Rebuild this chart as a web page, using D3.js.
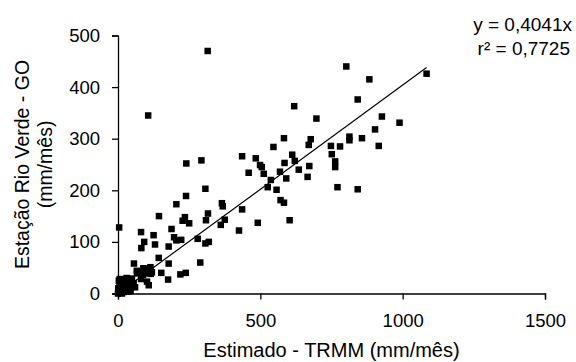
<!DOCTYPE html>
<html><head><meta charset="utf-8">
<script src="https://cdn.jsdelivr.net/npm/d3@7"></script>
<style>body{margin:0;background:#fff}svg{display:block}text{font-family:Arial,"Liberation Sans",sans-serif;fill:#000}</style>
</head><body><svg id="c" width="576" height="362"></svg>
<script>
const xTicks = [0, 500, 1000, 1500];
const yTicks = [0, 100, 200, 300, 400, 500];
const slope = 0.4041;
const equationText = "y = 0,4041x";
const r2Text = "r² = 0,7725";
const xTitle = "Estimado - TRMM (mm/mês)";
const yTitle = ["Estação Rio Verde - GO", "(mm/mês)"];
// Estimado TRMM (x) and station (y) monthly values
const trmm = [315,106,802,883,842,1084,619,697,927,989,903,857,813,813,916,780,748,751,763,763,771,842,583,677,670,546,672,666,612,621,635,585,569,591,537,526,557,512,459,499,505,484,436,293,240,571,583,603,491,425,436,365,368,375,361,307,239,205,235,227,250,316,309,144,188,81,125,4,92,82,130,178,197,205,222,280,307,319,143,178,56,289,152,176,219,238,108,
 114,92,78,67,119,96,88,81,102,49,38,89,66,84,112,115,
 2,5,8,10,12,15,18,20,22,25,28,30,33,35,38,40,42,45,48,52,3,6,14,26,55,60,0,1,9,16,30,44];
const station = [470,345,440,415,376,426,363,339,343,331,318,301,304,297,286,285,286,270,256,245,206,202,301,299,288,284,247,226,269,257,240,253,236,223,220,206,201,232,234,249,245,262,266,258,252,181,176,142,137,122,163,175,169,143,133,203,189,173,148,141,136,155,142,150,125,119,113,128,100,88,95,91,109,103,104,106,97,100,69,58,58,60,40,27,37,40,16,
 51,47,42,39,41,39,36,28,23,29,23,49,44,40,49,38,
 5,12,2,20,8,25,15,3,10,18,6,22,12,27,4,16,9,24,14,20,25,28,0,27,20,12,0,10,15,6,30,5];

const svg = d3.select("#c");
const x = d3.scaleLinear().domain([0, 1500]).range([118, 545]);
const y = d3.scaleLinear().domain([0, 500]).range([293.5, 35.5]);

const xAxis = svg.append("g").attr("transform", `translate(0,${y(0)})`)
  .call(d3.axisBottom(x).tickValues(xTicks).tickSize(6).tickPadding(14).tickFormat(d3.format("d")));
const yAxis = svg.append("g").attr("transform", `translate(${x(0)},0)`)
  .call(d3.axisLeft(y).tickValues(yTicks).tickSize(6).tickPadding(12).tickFormat(d3.format("d")));
[xAxis, yAxis].forEach(g => {
  g.selectAll("path.domain").attr("stroke", "#000").attr("stroke-width", 1.3);
  g.selectAll("line").attr("stroke", "#000").attr("stroke-width", 1.3);
  g.selectAll("text").style("font-size", "18.5px").attr("fill", "#000");
});

const pts = trmm.map((v, i) => [v, station[i]]);
const s = 6.5;
svg.append("g").selectAll("rect").data(pts).join("rect")
  .attr("x", d => x(d[0]) - s / 2).attr("y", d => y(d[1]) - s / 2)
  .attr("width", s).attr("height", s).attr("fill", "#000");

const xMax = d3.max(trmm);
svg.append("line")
  .attr("x1", x(0)).attr("y1", y(0)).attr("x2", x(xMax)).attr("y2", y(slope * xMax))
  .attr("stroke", "#000").attr("stroke-width", 1.2);

svg.append("text").attr("x", 572).attr("y", 31).attr("text-anchor", "end").style("font-size", "19px").text(equationText);
svg.append("text").attr("x", 570).attr("y", 55).attr("text-anchor", "end").style("font-size", "19px").text(r2Text);

svg.append("text").attr("x", x(750)).attr("y", 357).attr("text-anchor", "middle").style("font-size", "20px").text(xTitle);
const yt = svg.append("text").attr("transform", `translate(29,${y(250)}) rotate(-90)`).attr("text-anchor", "middle").style("font-size", "19.5px");
yt.append("tspan").attr("x", 0).attr("dy", 0).text(yTitle[0]);
yt.append("tspan").attr("x", 0).attr("dy", 23).text(yTitle[1]);
</script></body></html>
